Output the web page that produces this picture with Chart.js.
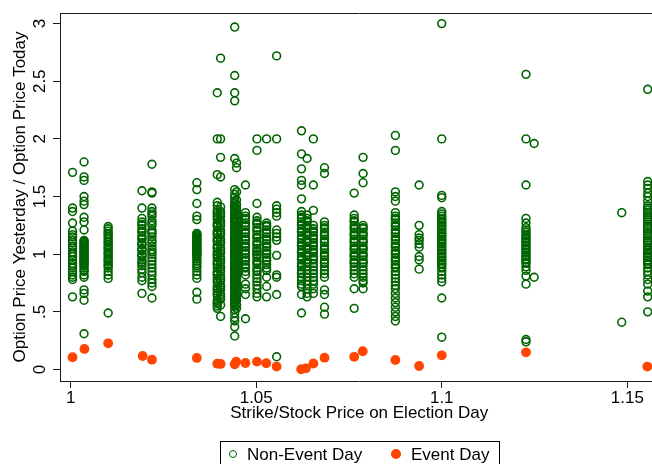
<!DOCTYPE html>
<html>
<head>
<meta charset="utf-8">
<script src="https://cdn.jsdelivr.net/npm/chart.js@4.4.1/dist/chart.umd.min.js"></script>
<style>
  html, body { margin:0; padding:0; background:#fff; overflow:hidden; }
  #wrap { position:relative; width:664px; height:464px; }
  #legend { position:absolute; left:220px; top:441px; width:280px; height:36px; border:1px solid #000;
            box-sizing:border-box; font:17px 'Liberation Sans', Arial, sans-serif; color:#000; }
  #legend span { position:absolute; top:2px; line-height:22px; white-space:nowrap; }
  .dot { position:absolute; border-radius:50%; box-sizing:border-box; }
  .dot.ne { left:8px; top:8px; width:8px; height:8px; border:1.4px solid #006400; }
  .dot.ev { left:170px; top:7px; width:10px; height:10px; background:#ff4500; }
</style>
</head>
<body>
<div id="wrap">
  <canvas id="c" width="664" height="464"></canvas>
  <div id="legend">
    <div class="dot ne"></div><span style="left:26px">Non-Event Day</span>
    <div class="dot ev"></div><span style="left:190px">Event Day</span>
  </div>
</div>
<script>
// ─── data ───────────────────────────────────────────────────────────────────
const xTicks = [1, 1.05, 1.1, 1.15];
const yTicks = [0, 0.5, 1, 1.5, 2, 2.5, 3];

// strike/stock ratios where options were observed
const strikeRatios = [1.0005, 1.0036, 1.0101, 1.0192, 1.0219, 1.0340, 1.0395, 1.0404, 1.0442, 1.0447,
                      1.0471, 1.0502, 1.0528, 1.0555, 1.0622, 1.0637, 1.0654, 1.0684, 1.0764, 1.0788,
                      1.0875, 1.0939, 1.1000, 1.1227, 1.1249, 1.1485, 1.1555];

// price ratios on non-event days, one list per strike ratio
const nonEventRatios = [
  [1.71, 1.40, 1.37, 1.27, 1.20, 1.17, 1.15, 1.12, 1.10, 1.07, 1.05, 1.02, 1.00, 0.98, 0.95, 0.92, 0.90, 0.88, 0.85, 0.82, 0.80, 0.78, 0.63],
  [1.80, 1.67, 1.64, 1.50, 1.46, 1.43, 1.32, 1.28, 1.21, 1.12, 1.11, 1.10, 1.09, 1.08, 1.07, 1.06, 1.05, 1.04, 1.03, 1.02, 1.01, 1.00, 0.99, 0.98, 0.97, 0.96, 0.95, 0.94, 0.93, 0.92, 0.91, 0.90, 0.88, 0.86, 0.85, 0.82, 0.80, 0.69, 0.66, 0.60, 0.31],
  [1.24, 1.22, 1.20, 1.18, 1.17, 1.15, 1.13, 1.11, 1.10, 1.08, 1.06, 1.05, 1.03, 1.01, 1.00, 0.98, 0.96, 0.95, 0.93, 0.91, 0.90, 0.88, 0.85, 0.82, 0.79, 0.49],
  [1.55, 1.40, 1.31, 1.28, 1.26, 1.25, 1.22, 1.20, 1.19, 1.16, 1.14, 1.13, 1.10, 1.09, 1.08, 1.05, 1.04, 1.03, 1.00, 0.99, 0.98, 0.95, 0.93, 0.92, 0.90, 0.87, 0.84, 0.80, 0.77, 0.66],
  [1.78, 1.54, 1.53, 1.40, 1.37, 1.35, 1.33, 1.29, 1.27, 1.25, 1.21, 1.19, 1.18, 1.15, 1.12, 1.10, 1.07, 1.04, 1.02, 1.00, 0.97, 0.94, 0.91, 0.88, 0.85, 0.82, 0.78, 0.75, 0.72, 0.62],
  [1.62, 1.56, 1.44, 1.33, 1.30, 1.18, 1.17, 1.16, 1.15, 1.14, 1.13, 1.12, 1.11, 1.10, 1.09, 1.08, 1.07, 1.06, 1.05, 1.04, 1.03, 1.02, 1.01, 1.00, 0.99, 0.98, 0.96, 0.94, 0.92, 0.90, 0.88, 0.85, 0.82, 0.79, 0.67, 0.61],
  [2.40, 2.00, 1.69, 1.45, 1.42, 1.38, 1.36, 1.34, 1.32, 1.30, 1.27, 1.25, 1.24, 1.20, 1.18, 1.17, 1.14, 1.12, 1.11, 1.08, 1.06, 1.05, 1.02, 1.00, 0.99, 0.97, 0.94, 0.92, 0.91, 0.88, 0.85, 0.83, 0.82, 0.79, 0.77, 0.75, 0.72, 0.70, 0.68, 0.66, 0.64, 0.60, 0.58, 0.57, 0.55, 0.53],
  [2.70, 2.00, 1.84, 1.67, 1.41, 1.37, 1.35, 1.33, 1.29, 1.27, 1.25, 1.21, 1.19, 1.17, 1.13, 1.11, 1.09, 1.05, 1.03, 1.01, 0.97, 0.95, 0.93, 0.89, 0.87, 0.85, 0.81, 0.79, 0.77, 0.73, 0.71, 0.69, 0.65, 0.63, 0.61, 0.56, 0.46],
  [2.97, 2.55, 2.40, 2.33, 1.83, 1.56, 1.52, 1.49, 1.46, 1.44, 1.42, 1.41, 1.39, 1.37, 1.36, 1.34, 1.32, 1.31, 1.29, 1.28, 1.27, 1.25, 1.24, 1.22, 1.21, 1.20, 1.18, 1.17, 1.15, 1.14, 1.13, 1.12, 1.11, 1.10, 1.09, 1.08, 1.07, 1.06, 1.05, 1.04, 1.03, 1.02, 1.01, 1.00, 0.99, 0.98, 0.97, 0.96, 0.95, 0.94, 0.93, 0.92, 0.91, 0.90, 0.89, 0.88, 0.87, 0.86, 0.85, 0.84, 0.83, 0.82, 0.81, 0.80, 0.79, 0.78, 0.77, 0.76, 0.75, 0.73, 0.72, 0.71, 0.70, 0.68, 0.67, 0.65, 0.64, 0.63, 0.61, 0.60, 0.58, 0.57, 0.55, 0.52, 0.49, 0.45, 0.42, 0.37, 0.29],
  [1.79, 1.75, 1.54, 1.47, 1.43, 1.40, 1.38, 1.35, 1.33, 1.30, 1.28, 1.25, 1.23, 1.21, 1.18, 1.16, 1.14, 1.12, 1.10, 1.08, 1.06, 1.04, 1.02, 1.00, 0.98, 0.96, 0.94, 0.92, 0.90, 0.88, 0.86, 0.84, 0.82, 0.80, 0.78, 0.76, 0.74, 0.71, 0.69, 0.66, 0.64, 0.62, 0.60, 0.56, 0.53],
  [1.60, 1.36, 1.33, 1.31, 1.30, 1.27, 1.25, 1.24, 1.21, 1.19, 1.18, 1.15, 1.13, 1.12, 1.09, 1.07, 1.06, 1.03, 1.01, 1.00, 0.97, 0.95, 0.94, 0.91, 0.89, 0.88, 0.85, 0.82, 0.74, 0.70, 0.65, 0.44],
  [2.00, 1.90, 1.44, 1.32, 1.29, 1.27, 1.26, 1.23, 1.21, 1.20, 1.17, 1.15, 1.14, 1.11, 1.09, 1.08, 1.05, 1.03, 1.02, 1.00, 0.99, 0.97, 0.94, 0.93, 0.91, 0.88, 0.86, 0.85, 0.82, 0.79, 0.76, 0.73, 0.70, 0.66, 0.63],
  [2.00, 1.27, 1.25, 1.24, 1.21, 1.19, 1.18, 1.15, 1.13, 1.12, 1.09, 1.07, 1.06, 1.03, 1.01, 1.00, 0.97, 0.95, 0.94, 0.91, 0.88, 0.86, 0.80, 0.72, 0.63],
  [2.72, 2.00, 1.42, 1.39, 1.36, 1.33, 1.21, 1.18, 1.15, 1.12, 0.99, 0.82, 0.80, 0.65, 0.11],
  [2.07, 1.87, 1.74, 1.64, 1.60, 1.48, 1.37, 1.34, 1.32, 1.31, 1.28, 1.26, 1.25, 1.22, 1.20, 1.19, 1.16, 1.14, 1.13, 1.10, 1.08, 1.07, 1.04, 1.02, 1.01, 0.98, 0.96, 0.95, 0.92, 0.90, 0.89, 0.86, 0.84, 0.83, 0.80, 0.77, 0.74, 0.72, 0.65, 0.49],
  [1.83, 1.34, 1.31, 1.29, 1.28, 1.25, 1.23, 1.22, 1.19, 1.17, 1.16, 1.13, 1.11, 1.10, 1.07, 1.05, 1.04, 1.01, 0.99, 0.98, 0.95, 0.93, 0.92, 0.89, 0.86, 0.83, 0.80, 0.77, 0.74, 0.70, 0.66, 0.63],
  [2.00, 1.60, 1.38, 1.25, 1.22, 1.20, 1.19, 1.16, 1.14, 1.13, 1.10, 1.08, 1.07, 1.04, 1.02, 1.01, 0.98, 0.96, 0.95, 0.92, 0.89, 0.86, 0.83, 0.80, 0.77, 0.74, 0.70, 0.66],
  [1.75, 1.70, 1.28, 1.25, 1.23, 1.22, 1.19, 1.17, 1.16, 1.13, 1.11, 1.10, 1.07, 1.05, 1.04, 1.01, 0.99, 0.98, 0.95, 0.93, 0.92, 0.89, 0.86, 0.83, 0.80, 0.69, 0.65, 0.54, 0.48],
  [1.53, 1.34, 1.31, 1.29, 1.28, 1.25, 1.23, 1.22, 1.19, 1.17, 1.16, 1.13, 1.11, 1.10, 1.07, 1.05, 1.04, 1.01, 0.99, 0.98, 0.95, 0.93, 0.92, 0.89, 0.86, 0.83, 0.80, 0.70, 0.53],
  [1.84, 1.70, 1.62, 1.25, 1.23, 1.22, 1.19, 1.17, 1.16, 1.13, 1.11, 1.10, 1.07, 1.05, 1.04, 1.01, 0.99, 0.98, 0.95, 0.93, 0.92, 0.89, 0.86, 0.83, 0.80, 0.77, 0.75, 0.70],
  [2.03, 1.90, 1.54, 1.50, 1.46, 1.36, 1.33, 1.31, 1.30, 1.27, 1.25, 1.24, 1.21, 1.19, 1.18, 1.15, 1.13, 1.12, 1.09, 1.07, 1.06, 1.03, 1.01, 1.00, 0.97, 0.95, 0.94, 0.91, 0.89, 0.88, 0.85, 0.82, 0.79, 0.76, 0.73, 0.70, 0.66, 0.62, 0.58, 0.54, 0.50, 0.46, 0.42],
  [1.60, 1.25, 1.17, 1.14, 1.12, 1.09, 1.06, 0.98, 0.95, 0.87],
  [3.00, 2.00, 1.51, 1.49, 1.37, 1.35, 1.33, 1.31, 1.30, 1.28, 1.27, 1.25, 1.24, 1.22, 1.21, 1.19, 1.18, 1.16, 1.15, 1.13, 1.12, 1.10, 1.09, 1.07, 1.06, 1.04, 1.03, 1.01, 1.00, 0.98, 0.97, 0.95, 0.94, 0.92, 0.91, 0.89, 0.88, 0.85, 0.82, 0.79, 0.76, 0.62, 0.28],
  [2.56, 2.00, 1.60, 1.31, 1.27, 1.23, 1.21, 1.19, 1.17, 1.16, 1.14, 1.13, 1.11, 1.10, 1.08, 1.07, 1.05, 1.04, 1.02, 1.01, 0.99, 0.98, 0.96, 0.95, 0.93, 0.92, 0.89, 0.86, 0.81, 0.74, 0.26, 0.24],
  [1.96, 0.80],
  [1.36, 0.41],
  [2.43, 1.63, 1.60, 1.57, 1.53, 1.50, 1.46, 1.42, 1.40, 1.38, 1.36, 1.34, 1.32, 1.30, 1.28, 1.26, 1.24, 1.22, 1.20, 1.18, 1.16, 1.14, 1.12, 1.10, 1.08, 1.06, 1.04, 1.03, 1.01, 1.00, 0.98, 0.97, 0.95, 0.94, 0.92, 0.91, 0.88, 0.85, 0.82, 0.78, 0.74, 0.68, 0.63, 0.50],
];

// event days (election day)
const eventStrikes = [1.0005, 1.0037, 1.0101, 1.0194, 1.0219, 1.0340, 1.0395, 1.0404, 1.0442, 1.0446,
                      1.0471, 1.0502, 1.0527, 1.0555, 1.0621, 1.0634, 1.0654, 1.0684, 1.0764, 1.0787,
                      1.0875, 1.0939, 1.1000, 1.1227, 1.1554];
const eventRatios  = [0.106, 0.178, 0.227, 0.117, 0.085, 0.100, 0.050, 0.048, 0.045, 0.068,
                      0.056, 0.068, 0.054, 0.025, 0.002, 0.010, 0.052, 0.102, 0.110, 0.158,
                      0.082, 0.030, 0.123, 0.149, 0.025];

// ─── look ────────────────────────────────────────────────────────────────────
const GREEN = '#006400';
const ORANGE = '#ff4500';
const AXIS = '#1a1a1a';
const FAMILY = "'Liberation Sans', Arial, sans-serif";
const FONT = { family: FAMILY, size: 17 };

const nonEventPts = strikeRatios.flatMap((x, i) => nonEventRatios[i].map(y => ({x, y})));
const eventPts = eventStrikes.map((x, i) => ({x, y: eventRatios[i]}));

const fmtTick = v => String(v).replace(/^0\./, '.');

// top / right outline of the plot region
const frame = {
  id: 'frame',
  afterDraw(chart) {
    const {ctx, chartArea: a} = chart;
    ctx.save();
    ctx.strokeStyle = AXIS;
    ctx.lineWidth = 1;
    ctx.beginPath();
    ctx.moveTo(a.left, a.top + 0.5);
    ctx.lineTo(a.right + 0.5, a.top + 0.5);
    ctx.lineTo(a.right + 0.5, a.bottom);
    ctx.stroke();
    ctx.restore();
  }
};

new Chart(document.getElementById('c'), {
  type: 'scatter',
  data: {
    datasets: [
      { label: 'Non-Event Day', data: nonEventPts, borderColor: GREEN, backgroundColor: 'transparent',
        pointRadius: 3.9, pointBorderWidth: 1.6, pointHoverRadius: 3.9 },
      { label: 'Event Day', data: eventPts, borderColor: ORANGE, backgroundColor: ORANGE,
        pointRadius: 4.9, pointBorderWidth: 0, pointHoverRadius: 4.9 },
    ]
  },
  options: {
    responsive: false,
    animation: false,
    layout: { padding: { left: 0, right: 4, top: 13, bottom: 0 } },
    plugins: { legend: { display: false }, tooltip: { enabled: false } },
    scales: {
      x: {
        type: 'linear', min: 0.99712, max: 1.15841,
        afterBuildTicks: s => { s.ticks = xTicks.map(v => ({value: v})); },
        afterFit: s => { s.height = 83; },
        grid: { drawOnChartArea: false, tickLength: 7, color: AXIS },
        border: { color: AXIS, width: 1 },
        ticks: { color: '#000', font: FONT, padding: 0, maxRotation: 0, autoSkip: false, callback: fmtTick },
        title: { display: true, text: 'Strike/Stock Price on Election Day', color: '#000',
                 font: FONT, padding: { top: 0, bottom: 40 } }
      },
      y: {
        min: -0.1, max: 3.092,
        afterBuildTicks: s => { s.ticks = yTicks.map(v => ({value: v})); },
        afterFit: s => { s.width = 60; },
        grid: { drawOnChartArea: false, tickLength: 7, color: AXIS },
        border: { color: AXIS, width: 1 },
        ticks: { color: '#000', font: FONT, padding: 1, minRotation: 90, maxRotation: 90,
                 crossAlign: 'center', autoSkip: false, callback: fmtTick },
        title: { display: true, text: 'Option Price Yesterday / Option Price Today', color: '#000',
                 font: FONT, padding: { top: 10, bottom: 0 } }
      }
    }
  },
  plugins: [frame]
});
</script>
</body>
</html>
